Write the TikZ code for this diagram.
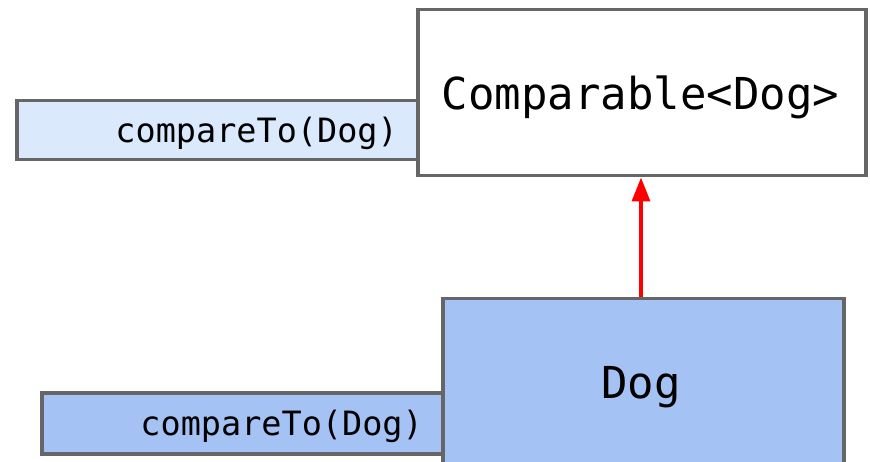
\documentclass[tikz,border=0pt]{standalone}
\usepackage{fontspec}
\setmonofont{DejaVu Sans Mono}
\usetikzlibrary{arrows.meta}
\definecolor{boxline}{HTML}{666666}
\definecolor{ifacefill}{HTML}{DAE9FC}
\definecolor{classfill}{HTML}{A4C2F4}
\tikzset{
  box/.style={draw=boxline, line width=3.5pt, rectangle, inner sep=0pt, anchor=north west},
  bigtext/.style={font=\ttfamily\fontsize{44}{50}\selectfont, inner sep=0pt, anchor=base},
  methodtext/.style={font=\ttfamily\fontsize{33.5}{38}\selectfont, inner sep=0pt, anchor=base east},
  implements/.style={draw=red, line width=3.5pt, -{Triangle[length=24pt,width=18pt]}}
}
\begin{document}
\begin{tikzpicture}[x=1pt,y=-1pt]
  \useasboundingbox (0,0) rectangle (870,462);
  \clip (0,0) rectangle (870,462);
  % method strips, tucked under their owner boxes
  \node[box, fill=ifacefill, minimum width=401pt, minimum height=59pt] (imethod) at (15,99) {};
  \node[box, fill=classfill, minimum width=401pt, minimum height=61pt] (cmethod) at (40,391) {};
  % interface and class boxes
  \node[box, fill=white, minimum width=448pt, minimum height=166pt] (iface) at (416,8) {};
  \node[box, fill=classfill, minimum width=401pt, minimum height=180pt] (dog) at (441,297) {};
  % labels
  \node[bigtext] (ifacelabel) at (640.5,110) {Comparable<Dog>};
  \node[bigtext] (doglabel) at (641,398) {Dog};
  \node[methodtext] (imethodlabel) at (398,143) {compareTo(Dog)};
  \node[methodtext] (cmethodlabel) at (423,435) {compareTo(Dog)};
  % implements arrow
  \draw[implements] (dog.north -| 641,0) -- (iface.south -| 641,0);
\end{tikzpicture}
\end{document}
